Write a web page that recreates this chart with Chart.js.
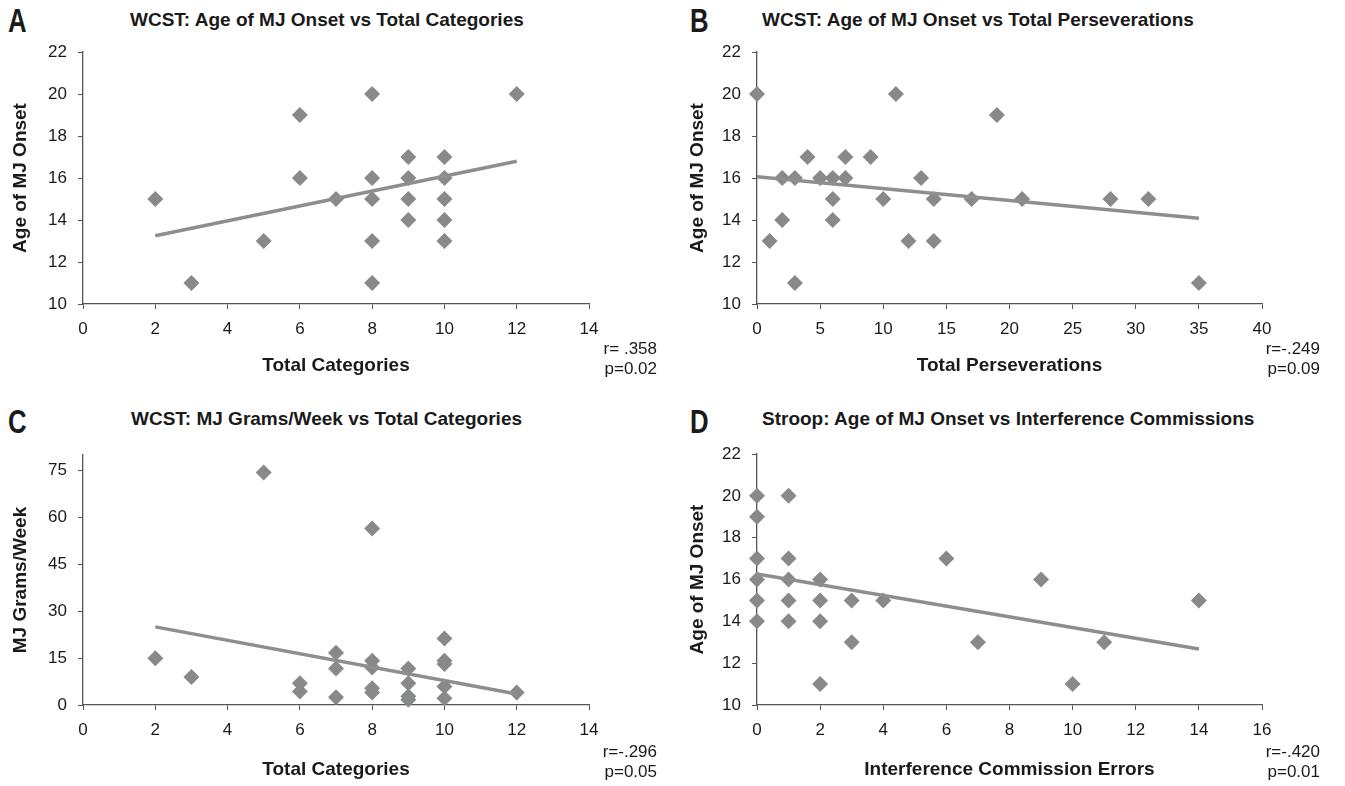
<!DOCTYPE html>
<html>
<head>
<meta charset="utf-8">
<script src="https://cdn.jsdelivr.net/npm/chart.js@4.4.1/dist/chart.umd.min.js"></script>
<style>
  body { margin: 0; background: #fff; width: 1345px; height: 786px; position: relative; overflow: hidden;
         font-family: 'Liberation Sans', Arial, sans-serif; color: #1a1a1a; }
  canvas { position: absolute; }
  .letter { position: absolute; font-weight: bold; font-size: 33px; line-height: 33px;
            transform: scaleX(0.78); transform-origin: left top; }
  .title { position: absolute; font-weight: bold; font-size: 19px; line-height: 22px; white-space: nowrap; }
  .stat { position: absolute; width: 120px; font-size: 17px; line-height: 20px; text-align: right; }
</style>
</head>
<body>
<div class="letter" style="left:8px;top:4px">A</div>
<div class="letter" style="left:690px;top:4px">B</div>
<div class="letter" style="left:8px;top:405px">C</div>
<div class="letter" style="left:690px;top:405px">D</div>

<div class="title" style="left:130px;top:9px">WCST: Age of MJ Onset vs Total Categories</div>
<div class="title" style="left:762px;top:9px">WCST: Age of MJ Onset vs Total Perseverations</div>
<div class="title" style="left:131px;top:408px">WCST: MJ Grams/Week vs Total Categories</div>
<div class="title" style="left:762px;top:408px">Stroop: Age of MJ Onset vs Interference Commissions</div>

<canvas id="chartA" width="672" height="393" style="left:0;top:0"></canvas>
<canvas id="chartB" width="672" height="393" style="left:672px;top:0"></canvas>
<canvas id="chartC" width="672" height="393" style="left:0;top:393px"></canvas>
<canvas id="chartD" width="672" height="393" style="left:672px;top:393px"></canvas>

<div class="stat" style="left:537px;top:339px">r= .358<br>p=0.02</div>
<div class="stat" style="left:1200px;top:339px">r=-.249<br>p=0.09</div>
<div class="stat" style="left:537px;top:742px">r=-.296<br>p=0.05</div>
<div class="stat" style="left:1200px;top:742px">r=-.420<br>p=0.01</div>

<script>
// A: total categories vs age of onset
const catA = [2, 3, 5, 6, 6, 7, 8, 8, 8, 8, 8, 9, 9, 9, 9, 10, 10, 10, 10, 10, 12];
const onsetA = [15, 11, 13, 19, 16, 15, 20, 16, 15, 13, 11, 17, 16, 15, 14, 17, 16, 15, 14, 13, 20];
const trendAx = [2, 12];
const trendAy = [13.25, 16.8];

// B: total perseverations vs age of onset
const persevB = [0, 1, 2, 2, 3, 3, 4, 5, 6, 6, 6, 7, 7, 9, 10, 11, 12, 13, 14, 14, 17, 19, 21, 28, 31, 35];
const onsetB = [20, 13, 16, 14, 16, 11, 17, 16, 16, 15, 14, 17, 16, 17, 15, 20, 13, 16, 15, 13, 15, 19, 15, 15, 15, 11];
const trendBx = [0, 35];
const trendBy = [16.06, 14.08];

// C: total categories vs grams/week
const catC = [2, 3, 5, 6, 6, 7, 7, 7, 8, 8, 8, 8, 8, 9, 9, 9, 9, 10, 10, 10, 10, 10, 12];
const gramsC = [15, 9, 74.4, 7, 4.3, 16.7, 11.7, 2.5, 56.5, 14.2, 12, 5.4, 4, 11.7, 7, 2.8, 1.7, 21.3, 14.2, 13.1, 5.9, 2.2, 4];
const trendCx = [2, 12];
const trendCy = [25.0, 3.5];

// D: interference commission errors vs age of onset
const errD = [0, 0, 0, 0, 0, 0, 1, 1, 1, 1, 1, 2, 2, 2, 2, 3, 3, 4, 6, 7, 9, 10, 11, 14];
const onsetD = [20, 19, 17, 16, 15, 14, 20, 17, 16, 15, 14, 16, 15, 14, 11, 15, 13, 15, 17, 13, 16, 11, 13, 15];
const trendDx = [0, 14];
const trendDy = [16.26, 12.68];

// tick labels
const ticksCat = [0, 2, 4, 6, 8, 10, 12, 14];
const ticksPersev = [0, 5, 10, 15, 20, 25, 30, 35, 40];
const ticksErr = [0, 2, 4, 6, 8, 10, 12, 14, 16];
const ticksOnset = [10, 12, 14, 16, 18, 20, 22];
const ticksGrams = [0, 15, 30, 45, 60, 75];

const MARK = "#88898b";
const LINE = "#8e8e8e";
const AXIS = "#555555";
const TEXT = "#1a1a1a";

Chart.defaults.font.family = "'Liberation Sans', Arial, sans-serif";
Chart.defaults.color = TEXT;

function pts(xs, ys) {
  return xs.map((x, i) => ({ x: x, y: ys[i] }));
}

function makeChart(id, o) {
  new Chart(document.getElementById(id), {
    type: "scatter",
    data: {
      datasets: [
        {
          data: pts(o.xs, o.ys),
          pointStyle: "rectRot",
          pointRadius: 8,
          backgroundColor: MARK,
          borderWidth: 0,
          clip: false,
          order: 2,
        },
        {
          type: "line",
          data: pts(o.tx, o.ty),
          borderColor: LINE,
          borderWidth: 3.5,
          pointRadius: 0,
          fill: false,
          order: 1,
        },
      ],
    },
    options: {
      responsive: false,
      animation: false,
      layout: { padding: { left: 0, right: o.padR, top: o.padT, bottom: 4 } },
      plugins: { legend: { display: false }, tooltip: { enabled: false } },
      scales: {
        x: {
          type: "linear",
          min: o.xTicks[0],
          max: o.xTicks[o.xTicks.length - 1],
          afterBuildTicks: (s) => { s.ticks = o.xTicks.map((v) => ({ value: v })); },
          ticks: { padding: 10, font: { size: 17 } },
          grid: { drawOnChartArea: false, tickLength: 5, color: AXIS },
          border: { color: AXIS, width: 1.3 },
          title: { display: true, text: o.xTitle, font: { size: 19, weight: "bold" }, padding: { top: 0, bottom: o.xtPad } },
          afterFit: (s) => { s.height = o.xh; },
        },
        y: {
          type: "linear",
          min: o.yTicks[0],
          max: o.yMax,
          afterBuildTicks: (s) => { s.ticks = o.yTicks.map((v) => ({ value: v })); },
          ticks: { padding: 11, font: { size: 17 } },
          grid: { drawOnChartArea: false, tickLength: 5, color: AXIS },
          border: { color: AXIS, width: 1.3 },
          title: { display: true, text: o.yTitle, font: { size: 19, weight: "bold" }, padding: { top: o.ytPad, bottom: 0 } },
          afterFit: (s) => { s.width = o.yw; },
        },
      },
    },
  });
}

makeChart("chartA", {
  xs: catA, ys: onsetA, tx: trendAx, ty: trendAy,
  xTicks: ticksCat, yTicks: ticksOnset, yMax: 22,
  xTitle: "Total Categories", yTitle: "Age of MJ Onset",
  yw: 83, padR: 83, padT: 52, xh: 85, xtPad: 12, ytPad: 9,
});
makeChart("chartB", {
  xs: persevB, ys: onsetB, tx: trendBx, ty: trendBy,
  xTicks: ticksPersev, yTicks: ticksOnset, yMax: 22,
  xTitle: "Total Perseverations", yTitle: "Age of MJ Onset",
  yw: 85, padR: 82, padT: 52, xh: 85, xtPad: 12, ytPad: 14,
});
makeChart("chartC", {
  xs: catC, ys: gramsC, tx: trendCx, ty: trendCy,
  xTicks: ticksCat, yTicks: ticksGrams, yMax: 80,
  xTitle: "Total Categories", yTitle: "MJ Grams/Week",
  yw: 83, padR: 83, padT: 62, xh: 77, xtPad: 1, ytPad: 9,
});
makeChart("chartD", {
  xs: errD, ys: onsetD, tx: trendDx, ty: trendDy,
  xTicks: ticksErr, yTicks: ticksOnset, yMax: 22,
  xTitle: "Interference Commission Errors", yTitle: "Age of MJ Onset",
  yw: 85, padR: 82, padT: 61, xh: 77, xtPad: 1, ytPad: 14,
});
</script>
</body>
</html>
